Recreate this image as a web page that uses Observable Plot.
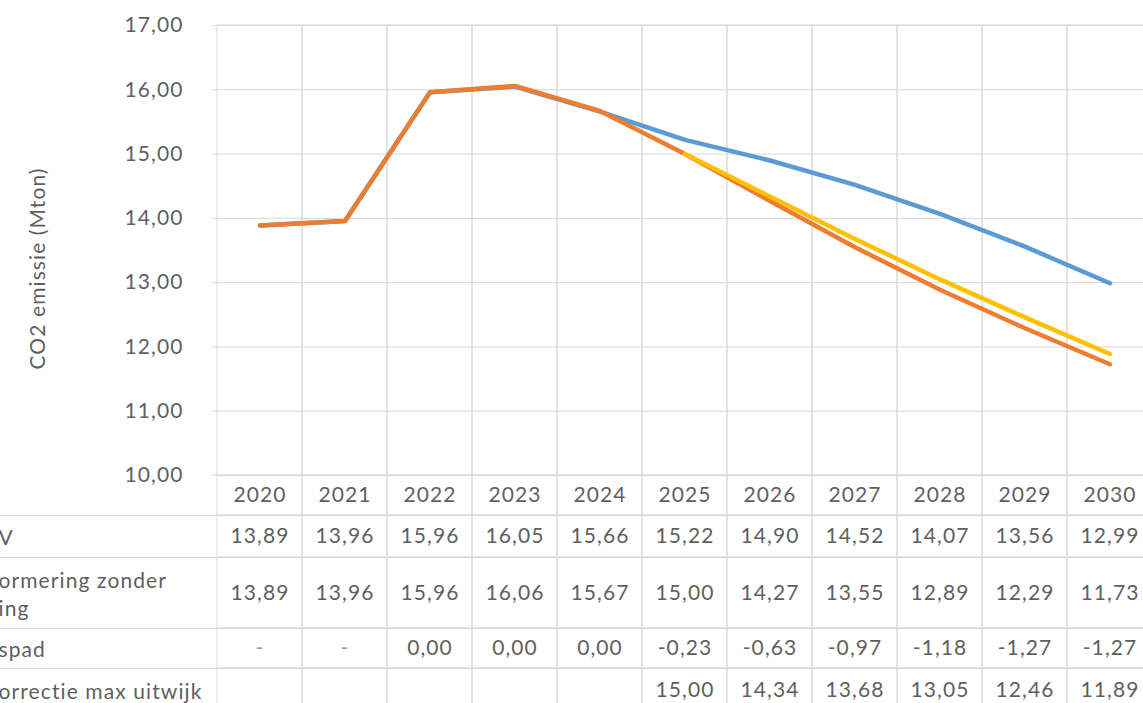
<!DOCTYPE html>
<html>
<head>
<meta charset="utf-8">
<script src="https://cdn.jsdelivr.net/npm/d3@7"></script>
<script src="https://cdn.jsdelivr.net/npm/@observablehq/plot@0.6"></script>
<style>
  html, body { margin: 0; padding: 0; background: #fff; overflow: hidden; }
  #chart svg { display: block; }
</style>
</head>
<body>
<div id="chart"></div>
<script>
// ---- data ----
const years = [2020, 2021, 2022, 2023, 2024, 2025, 2026, 2027, 2028, 2029, 2030];
const kev = [13.89, 13.96, 15.96, 16.05, 15.66, 15.22, 14.90, 14.52, 14.07, 13.56, 12.99];
const normering = [13.89, 13.96, 15.96, 16.06, 15.67, 15.00, 14.27, 13.55, 12.89, 12.29, 11.73];
const spad = [null, null, 0.00, 0.00, 0.00, -0.23, -0.63, -0.97, -1.18, -1.27, -1.27];
const correctie = [null, null, null, null, null, 15.00, 14.34, 13.68, 13.05, 12.46, 11.89];
const rowLabels = ["V", "ormering zonder\ning", "spad", "orrectie max uitwijk"];
const yTicks = [10, 11, 12, 13, 14, 15, 16, 17];
const yTitle = "CO2 emissie (Mton)";

// ---- styling ----
const grid = "#d9d9d9";
const textColor = "#5f5f5f";
const colors = {kev: "#5B9BD5", normering: "#ED7D31", spad: "#A5A5A5", correctie: "#FFC000"};
const W = 1143;
const xRange = [212, 1156];
const baseStyle = {fontFamily: "Lato, 'Open Sans', sans-serif", fontSize: "21px", color: textColor,
  background: "transparent", overflow: "visible", letterSpacing: "1.1px"};
const fmt = v => v == null ? "" : v.toFixed(2).replace(".", ",");

const series = [
  {key: "kev", values: kev},
  {key: "normering", values: normering},
  {key: "correctie", values: correctie}
];
const lineData = series.flatMap(s => s.values.map((v, i) => ({series: s.key, year: years[i], value: v})).filter(d => d.value != null));

const root = document.getElementById("chart");

// ---- chart ----
const chart = Plot.plot({
  width: W,
  height: 475,
  marginTop: 25,
  marginBottom: 0,
  marginLeft: 212,
  marginRight: 0,
  style: baseStyle,
  x: {type: "band", domain: years, range: xRange, padding: 0, axis: null},
  y: {domain: [10, 17], axis: null},
  marks: [
    Plot.ruleY(yTicks, {stroke: grid, strokeWidth: 1}),
    Plot.cell(years, {x: d => d, fill: "none", stroke: grid}),
    Plot.axisY(yTicks, {tickFormat: fmt, tickSize: 0, tickPadding: 29, label: null, fill: textColor}),
    Plot.text([yTitle], {frameAnchor: "left", rotate: -90, dx: -174, dy: 18, textAnchor: "middle", fill: textColor, fontSize: 21}),
    ...series.map(s => Plot.line(lineData.filter(d => d.series === s.key), {
      x: "year", y: "value", stroke: colors[s.key], strokeWidth: 4.5, strokeLinejoin: "round", strokeLinecap: "round"
    }))
  ]
});
root.appendChild(chart);

// ---- table ----
const tableRows = [
  {label: null, cells: years.map(String), h: 40},
  {label: rowLabels[0], cells: kev.map(fmt), h: 42},
  {label: rowLabels[1], cells: normering.map(fmt), h: 71},
  {label: rowLabels[2], cells: spad.map(v => v == null ? "-" : fmt(v)), h: 40},
  {label: rowLabels[3], cells: correctie.map(fmt), h: 44}
];

for (const row of tableRows) {
  const cellData = years.map((y, i) => ({year: y, text: row.cells[i]}));
  const marks = [];
  if (row.label != null) marks.push(Plot.frame({anchor: "top", stroke: grid}));
  marks.push(Plot.cell(cellData, {x: "year", fill: "none", stroke: grid}));
  marks.push(Plot.text(cellData, {x: "year", text: "text", frameAnchor: "middle",
    fill: d => d.text === "-" ? "#9a9a9a" : textColor}));
  if (row.label != null) marks.push(Plot.text([row.label], {frameAnchor: "left", textAnchor: "start", dx: -2, lineHeight: 1.33, fill: textColor}));
  const p = Plot.plot({
    width: W,
    height: row.h,
    margin: 0,
    style: baseStyle,
    x: {type: "band", domain: years, range: xRange, padding: 0, axis: null},
    marks
  });
  root.appendChild(p);
}
</script>
</body>
</html>
